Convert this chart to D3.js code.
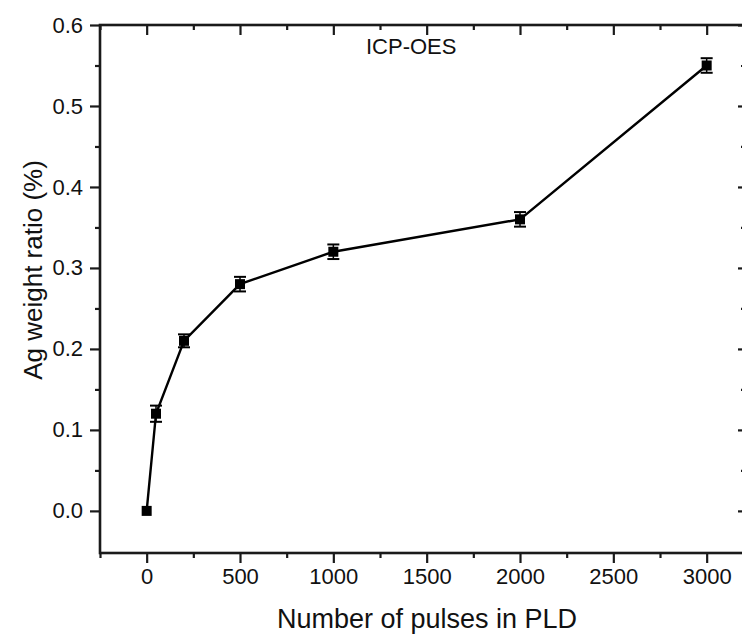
<!DOCTYPE html>
<html>
<head>
<meta charset="utf-8">
<script src="https://cdn.jsdelivr.net/npm/d3@7"></script>
<style>
  html, body { margin: 0; padding: 0; background: #fff; }
  svg { display: block; font-family: "Liberation Sans", Arial, sans-serif; }
</style>
</head>
<body>
<svg id="chart" width="742" height="635"></svg>
<script>
// Ag content measured by ICP-OES versus number of PLD pulses
const pulses = [0, 50, 200, 500, 1000, 2000, 3000];
const agRatio = [0.00, 0.12, 0.21, 0.28, 0.32, 0.36, 0.55];
const agError = [0.00, 0.01, 0.008, 0.009, 0.009, 0.009, 0.009];

const xMajorTicks = [0, 500, 1000, 1500, 2000, 2500, 3000];
const xMinorTicks = [-250, 250, 750, 1250, 1750, 2250, 2750];
const yMajorTicks = [0.0, 0.1, 0.2, 0.3, 0.4, 0.5, 0.6];
const yMinorTicks = [0.05, 0.15, 0.25, 0.35, 0.45, 0.55];

const svg = d3.select("#chart");
const plotLeft = 100, plotRight = 744, plotTop = 25, plotBottom = 553;

const x = d3.scaleLinear().domain([-250, 3200]).range([plotLeft, plotRight]);
const y = d3.scaleLinear().domain([-0.052, 0.6]).range([plotBottom, plotTop]);

const axisColor = "#1a1a1a";

// Bottom axis: outward ticks with labels
const gB = svg.append("g").attr("transform", `translate(0,${plotBottom})`);
gB.call(d3.axisBottom(x).tickValues(xMajorTicks).tickSize(10).tickPadding(5).tickFormat(d3.format("d")));
gB.append("g").call(d3.axisBottom(x).tickValues(xMinorTicks).tickSize(5).tickFormat(""));

// Top axis: inward ticks, no labels
const gT = svg.append("g").attr("transform", `translate(0,${plotTop})`);
gT.call(d3.axisBottom(x).tickValues(xMajorTicks).tickSize(10).tickFormat(""));
gT.append("g").call(d3.axisBottom(x).tickValues(xMinorTicks).tickSize(5).tickFormat(""));

// Left axis: outward ticks with labels
const gL = svg.append("g").attr("transform", `translate(${plotLeft},0)`);
gL.call(d3.axisLeft(y).tickValues(yMajorTicks).tickSize(10).tickPadding(7).tickFormat(d3.format(".1f")));
gL.append("g").call(d3.axisLeft(y).tickValues(yMinorTicks).tickSize(5).tickFormat(""));

// Right axis: inward ticks
const gR = svg.append("g").attr("transform", `translate(${plotRight},0)`);
gR.call(d3.axisLeft(y).tickValues(yMajorTicks).tickSize(6).tickFormat(""));
gR.append("g").call(d3.axisLeft(y).tickValues(yMinorTicks).tickSize(3).tickFormat(""));

svg.selectAll(".domain").remove();
svg.selectAll(".tick line").attr("stroke", axisColor).attr("stroke-width", 2.2);
svg.selectAll(".tick text").attr("fill", "#111").style("font-size", "22px");

// Frame
svg.append("rect")
  .attr("x", plotLeft).attr("y", plotTop)
  .attr("width", plotRight - plotLeft).attr("height", plotBottom - plotTop)
  .attr("fill", "none").attr("stroke", axisColor).attr("stroke-width", 2.6);

const data = pulses.map((p, i) => ({ p, v: agRatio[i], e: agError[i] }));

// Connecting line
svg.append("path")
  .datum(data)
  .attr("fill", "none")
  .attr("stroke", "#000")
  .attr("stroke-width", 2.4)
  .attr("d", d3.line().x(d => x(d.p)).y(d => y(d.v)));

// Error bars
const eb = svg.append("g").selectAll("g").data(data.filter(d => d.e > 0)).join("g");
eb.append("line")
  .attr("x1", d => x(d.p)).attr("x2", d => x(d.p))
  .attr("y1", d => y(d.v - d.e)).attr("y2", d => y(d.v + d.e))
  .attr("stroke", "#000").attr("stroke-width", 1.5);
[-1, 1].forEach(s => {
  eb.append("line")
    .attr("x1", d => x(d.p) - 6).attr("x2", d => x(d.p) + 6)
    .attr("y1", d => y(d.v + s * d.e)).attr("y2", d => y(d.v + s * d.e))
    .attr("stroke", "#000").attr("stroke-width", 2);
});

// Square markers
const ms = 10;
svg.append("g").selectAll("rect").data(data).join("rect")
  .attr("x", d => x(d.p) - ms / 2)
  .attr("y", d => y(d.v) - ms / 2)
  .attr("width", ms).attr("height", ms)
  .attr("fill", "#000");

// Annotation
svg.append("text")
  .attr("x", 366).attr("y", 54)
  .style("font-size", "22px").attr("fill", "#111")
  .text("ICP-OES");

// Axis titles
svg.append("text")
  .attr("x", 427).attr("y", 628)
  .attr("text-anchor", "middle")
  .style("font-size", "27px").attr("fill", "#111")
  .text("Number of pulses in PLD");

svg.append("text")
  .attr("transform", "translate(42,270) rotate(-90)")
  .attr("text-anchor", "middle")
  .style("font-size", "26px").attr("fill", "#111")
  .text("Ag weight ratio (%)");
</script>
</body>
</html>
